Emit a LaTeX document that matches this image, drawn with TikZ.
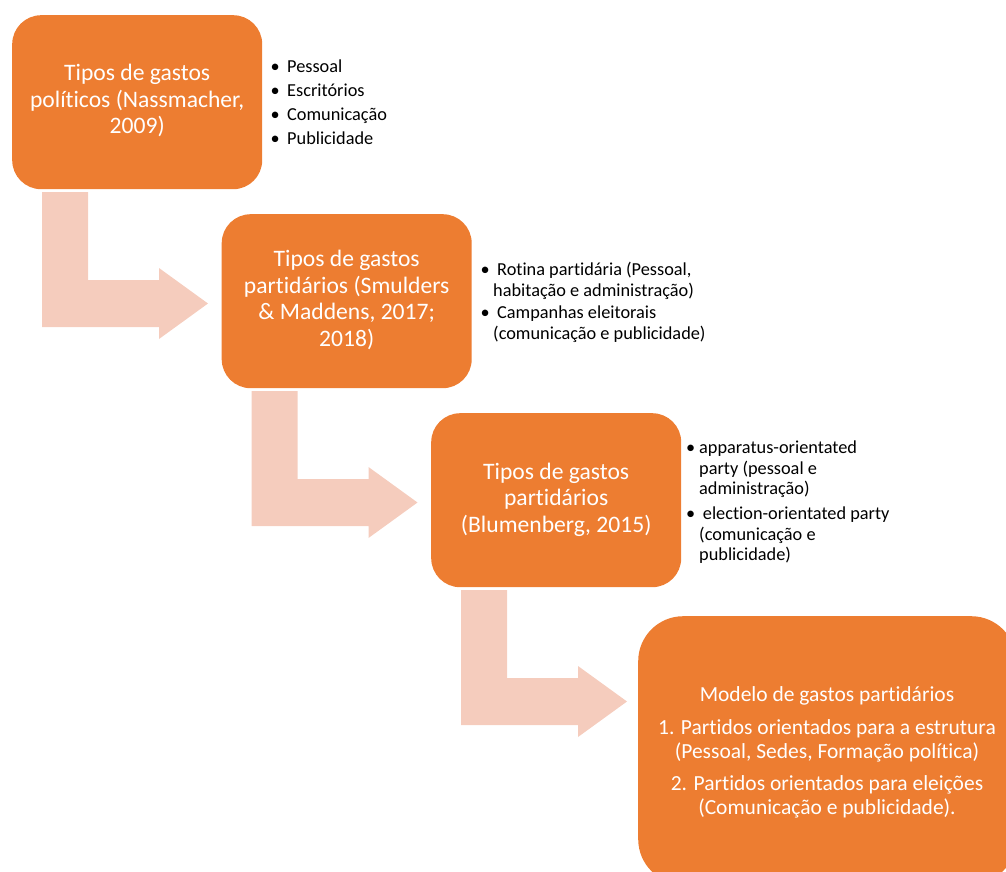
\documentclass[tikz,border=0pt]{standalone}
\usepackage{fontspec}
\setmainfont{Carlito}[Ligatures=NoCommon]
\definecolor{boxorange}{HTML}{ED7D31}
\definecolor{arrowpink}{HTML}{F5CCBD}
\newcommand{\bul}[1]{\makebox[#1][l]{•}}
\tikzset{
  stepbox/.style={fill=boxorange, draw=none, rounded corners=29pt,
    minimum width=250pt, minimum height=174pt, anchor=north west,
    inner sep=0pt, text=white, font=\fontsize{23.6}{26.5}\selectfont},
  bullist/.style={anchor=north west, inner sep=0pt, text=black},
  bentarrow/.pic={
    \fill[arrowpink] (0,0) -- (46,0) -- (46,88) -- (117,88) -- (117,76)
      -- (166,111.5) -- (117,147) -- (117,135) -- (0,135) -- cycle;
  }
}
\begin{document}
\begin{tikzpicture}[x=1pt,y=-1pt]
\useasboundingbox (0,0) rectangle (1006,872);
\clip (0,0) rectangle (1006,872);

% bent arrows
\pic (a1) at (42,192) {bentarrow};
\pic (a2) at (251.5,391) {bentarrow};
\pic (a3) at (461,590) {bentarrow};

% boxes
\node[stepbox] (b1) at (12,15) {\begin{tabular}{@{}c@{}}Tipos de gastos\\políticos (Nassmacher,\\2009)\end{tabular}};
\node[stepbox] (b2) at (221.5,214) {\begin{tabular}{@{}c@{}}Tipos de gastos\\partidários (Smulders\\\& Maddens, 2017;\\2018)\end{tabular}};
\node[stepbox] (b3) at (431,413) {\begin{tabular}{@{}c@{}}Tipos de gastos\\partidários\\(Blumenberg, 2015)\end{tabular}};
\node[stepbox, minimum width=378pt, minimum height=268pt, rounded corners=45pt] (b4) at (638,616) {};
\node[anchor=north, inner sep=0pt, text=white, font=\fontsize{21.5}{23.3}\selectfont] (m4) at (827,685.4)
  {\begin{tabular}{@{}c@{}}Modelo de gastos partidários\\[9.5pt]1. Partidos orientados para a estrutura\\(Pessoal, Sedes, Formação política)\\[9.5pt]2. Partidos orientados para eleições\\(Comunicação e publicidade).\end{tabular}};

% bullet lists
\node[bullist, font=\fontsize{18.3}{24}\selectfont] (l1) at (270.5,55.9)
  {\begin{tabular}{@{}l@{}}\bul{16.5pt}Pessoal\\\bul{16.5pt}Escritórios\\\bul{16.5pt}Comunicação\\\bul{16.5pt}Publicidade\end{tabular}};
\node[bullist, font=\fontsize{18.3}{20.5}\selectfont] (l2) at (480.5,261)
  {\begin{tabular}{@{}l@{}}\bul{16.5pt}Rotina partidária (Pessoal,\\\hspace*{12.5pt}habitação e administração)\\[2pt]\bul{16.5pt}Campanhas eleitorais\\\hspace*{12.5pt}(comunicação e publicidade)\end{tabular}};
\node[bullist, font=\fontsize{18.3}{20.5}\selectfont] (l3) at (686,439)
  {\begin{tabular}{@{}l@{}}\bul{13pt}apparatus-orientated\\\hspace*{13pt}party (pessoal e\\\hspace*{13pt}administração)\\[4.5pt]\bul{16.7pt}election-orientated party\\\hspace*{13pt}(comunicação e\\\hspace*{13pt}publicidade)\end{tabular}};
\end{tikzpicture}
\end{document}
